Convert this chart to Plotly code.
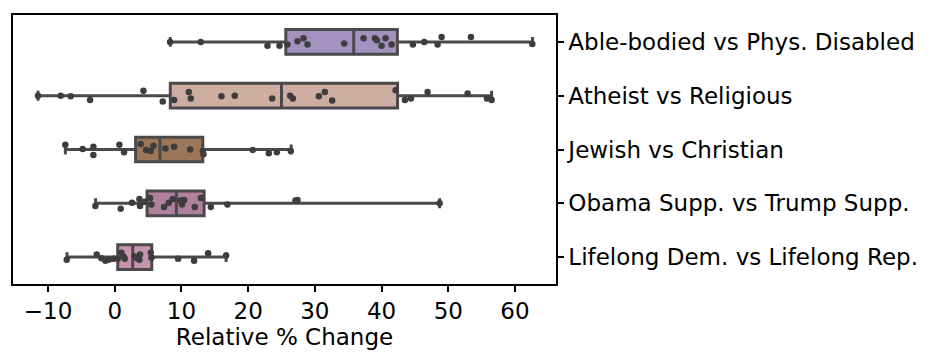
import plotly.graph_objects as go

# ── Data ──────────────────────────────────────────────────────────────────────
categories = [
    "Able-bodied vs Phys. Disabled",
    "Atheist vs Religious",
    "Jewish vs Christian",
    "Obama Supp. vs Trump Supp.",
    "Lifelong Dem. vs Lifelong Rep.",
]

# box statistics
q1 = [25.65, 8.33, 3.13, 4.85, 0.45]
median = [35.83, 25.0, 6.78, 9.24, 2.7]
q3 = [42.37, 42.4, 13.2, 13.4, 5.55]
lower_whisker = [8.33, -11.5, -7.4, -2.87, -7.16]
upper_whisker = [62.63, 56.5, 26.45, 48.7, 16.7]

# strip points: values and vertical jitter
able_x = [8.3, 12.9, 22.9, 24.7, 25.9, 27.4, 28.3, 28.9, 34.4, 37.3, 39.0,
          39.3, 40.0, 40.6, 41.5, 44.7, 46.4, 48.4, 49.0, 53.4, 62.6]
able_j = [0, 0, 0.07, 0.07, 0.05, -0.01, -0.07, 0.05, 0.03, -0.07, -0.07,
          -0.03, 0.07, -0.07, 0.05, 0.05, 0, 0.05, -0.09, -0.09, 0.04]

atheist_x = [-11.5, -8.1, -6.6, -3.7, 4.3, 7.2, 8.9, 11.1, 11.4, 16.0, 18.0,
             23.6, 26.3, 26.7, 30.6, 31.5, 32.6, 42.1, 43.5, 44.4, 46.9,
             52.9, 55.8, 56.5]
atheist_j = [0, 0, 0.01, 0.08, -0.09, 0.11, 0.08, -0.07, 0.05, 0.01, 0,
             0.05, 0, 0.05, 0.01, -0.07, 0.09, -0.1, 0.08, 0.05, -0.07,
             -0.04, 0.05, 0.08]

jewish_x = [-7.4, -4.8, -3.2, -3.2, 0.7, 1.4, 3.9, 4.7, 5.4, 5.8, 7.6, 8.9,
            11.3, 13.2, 13.3, 20.7, 23.1, 24.3, 26.4]
jewish_j = [-0.09, -0.01, -0.05, 0.1, -0.09, 0.05, -0.1, 0.01, 0.03, -0.07,
            -0.02, -0.05, 0, 0.03, 0.09, 0.01, 0.07, 0.05, 0.03]

obama_x = [-2.9, 0.9, 2.6, 3.7, 3.8, 4.5, 5.3, 5.5, 7.4, 8.1, 8.7, 9.8, 10.1,
           10.4, 12.0, 12.9, 14.4, 16.9, 27.1, 27.4, 48.7]
obama_j = [0.05, 0.1, -0.01, -0.08, 0.05, -0.03, -0.1, 0.02, 0.07, -0.01,
           -0.08, -0.05, 0.02, -0.06, 0.07, -0.1, 0.07, 0.02, -0.05, -0.06, 0]

lifelong_x = [-7.2, -2.7, -2.0, -1.4, -0.9, -0.2, 0.45, 1.0, 1.3, 1.5, 3.0,
              3.4, 3.7, 3.8, 5.4, 5.5, 9.5, 11.9, 14.0, 16.7]
lifelong_j = [0.05, -0.05, 0.02, 0.07, 0.05, 0.03, 0.03, -0.08, -0.01, 0.03,
              -0.01, 0.02, 0.05, -0.05, -0.08, 0.01, 0.03, 0.07, -0.07, -0.03]

points_x = [able_x, atheist_x, jewish_x, obama_x, lifelong_x]
points_j = [able_j, atheist_j, jewish_j, obama_j, lifelong_j]

# ── Style ─────────────────────────────────────────────────────────────────────
box_colors = ["#a392c0", "#cfaea2", "#9c7658", "#b0819c", "#c893b0"]
LINE = "#4a4a4a"
POINT = "#3d3d3d"
FONT = dict(family="DejaVu Sans", size=23, color="black")

fig = go.Figure()

for i, cat in enumerate(categories):
    fig.add_trace(go.Box(
        y=[i], q1=[q1[i]], median=[median[i]], q3=[q3[i]],
        lowerfence=[lower_whisker[i]], upperfence=[upper_whisker[i]],
        orientation="h", width=0.46, whiskerwidth=0.4,
        fillcolor=box_colors[i], line=dict(color=LINE, width=3),
        boxpoints=False, showlegend=False, name=cat,
    ))

for i in range(len(categories)):
    fig.add_trace(go.Scatter(
        x=points_x[i], y=[i + j for j in points_j[i]],
        mode="markers", marker=dict(color=POINT, size=6.5),
        showlegend=False, hoverinfo="x",
    ))

# page body adds an 8px margin, so the plot margins are shifted to compensate
fig.update_layout(
    width=939, height=360,
    paper_bgcolor="white", plot_bgcolor="white",
    margin=dict(l=5, r=391, t=7, b=84),
    font=FONT,
)
fig.update_xaxes(
    range=[-15.25, 66.15], tickvals=[-10, 0, 10, 20, 30, 40, 50, 60],
    showgrid=False, zeroline=False, automargin=False,
    showline=True, linecolor="black", linewidth=1.5, mirror=True,
    ticks="outside", ticklen=6, tickwidth=1.5, tickcolor="black",
    title=dict(text="Relative % Change", standoff=1, font=FONT),
)
fig.update_yaxes(
    range=[4.5, -0.5], side="right", automargin=False,
    tickvals=list(range(len(categories))), ticktext=categories,
    showgrid=False, zeroline=False,
    showline=True, linecolor="black", linewidth=1.5, mirror=True,
    ticks="outside", ticklen=6, tickwidth=1.5, tickcolor="black",
)

fig.write_html("out.html")
